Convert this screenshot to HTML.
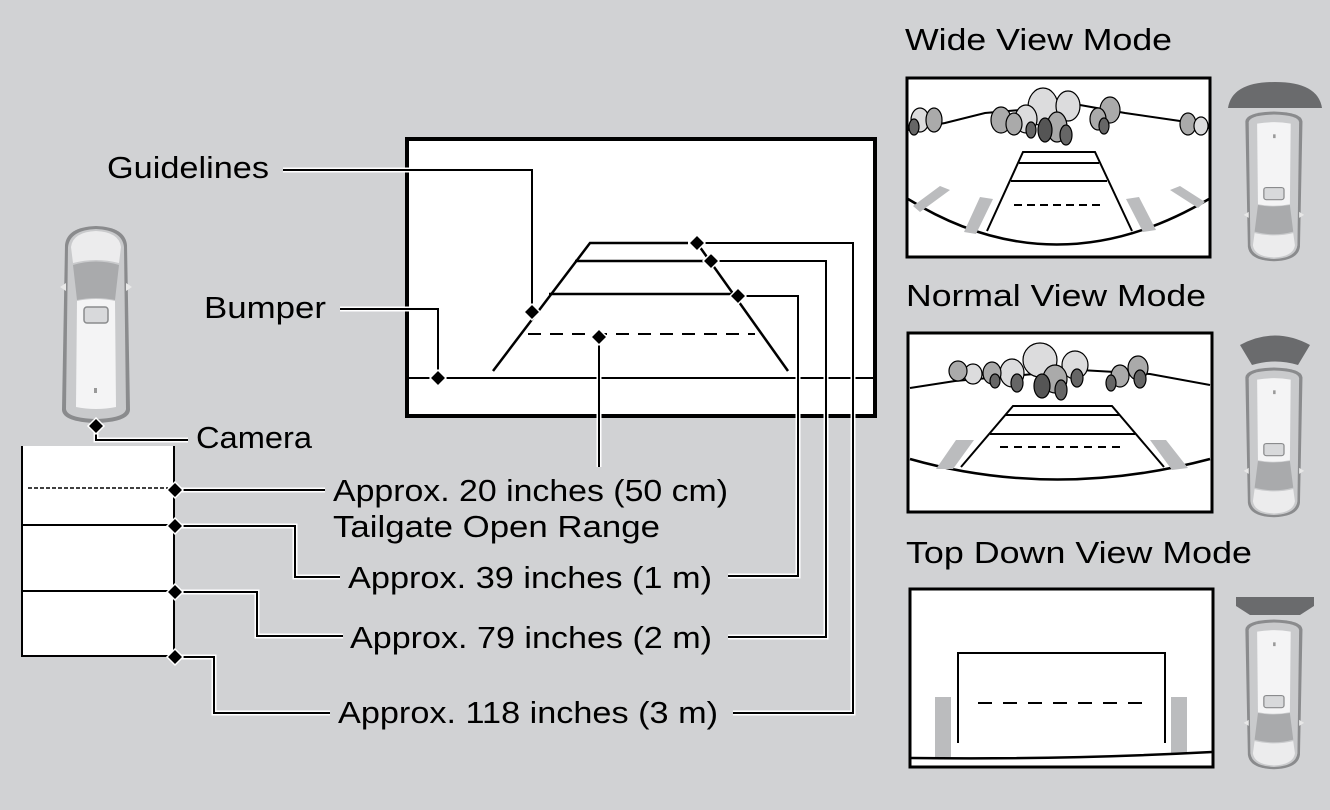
<!DOCTYPE html>
<html><head><meta charset="utf-8"><style>
html,body{margin:0;padding:0;background:#d1d2d4;}
svg{display:block;}
text{font-family:"Liberation Sans",sans-serif;fill:#000;}
</style></head><body>
<svg width="1330" height="810" viewBox="0 0 1330 810" xmlns="http://www.w3.org/2000/svg">
<defs>
<g id="car">
  <path d="M6,20 Q8,2 37,1 Q66,2 68,20 L71,185 Q70,197 37,198 Q4,197 3,185 Z" fill="#8a8b8d"/>
  <path d="M9,22 Q11,5 37,4 Q63,5 65,22 L67,184 Q66,193 37,194 Q8,193 7,184 Z" fill="#c9cacc"/>
  <path d="M12,22 Q14,7 37,6 Q60,7 62,22 L60,38 Q37,32 14,38 Z" fill="#ececed"/>
  <path d="M14,40 Q37,33 60,40 L56,75 Q37,71 18,75 Z" fill="#a9aaac"/>
  <path d="M18,76 Q37,72 56,76 L57,182 Q37,186 17,182 Z" fill="#f4f4f5"/>
  <rect x="25" y="82" width="24" height="16" rx="3" fill="#d8d9db" stroke="#8a8b8d" stroke-width="1.5"/>
  <path d="M1,62 L7,58 L7,66 Z M73,62 L67,58 L67,66 Z" fill="#e8e8e8"/>
  <rect x="35" y="163" width="3" height="5" fill="#999"/>
</g>
</defs>

<use href="#car" transform="translate(59,225)"/>

<rect x="22" y="446" width="152" height="211" fill="#fff"/>
<line x1="22" y1="446" x2="22" y2="657" stroke="#000" stroke-width="2"/>
<line x1="174" y1="446" x2="174" y2="657" stroke="#000" stroke-width="2"/>
<line x1="28" y1="488" x2="168" y2="488" stroke="#000" stroke-width="1.5" stroke-dasharray="4,2"/>
<line x1="22" y1="525" x2="174" y2="525" stroke="#000" stroke-width="2"/>
<line x1="22" y1="591" x2="174" y2="591" stroke="#000" stroke-width="2"/>
<line x1="22" y1="656" x2="174" y2="656" stroke="#000" stroke-width="2"/>

<rect x="407" y="139" width="468" height="277" fill="#fff" stroke="#000" stroke-width="4"/>
<line x1="409" y1="378" x2="873" y2="378" stroke="#000" stroke-width="2"/>
<g stroke="#000" stroke-width="2.5" fill="none">
  <polyline points="493,371 590,243 688,243"/>
  <line x1="697" y1="243" x2="788" y2="371"/>
  <line x1="575" y1="261" x2="705" y2="261"/>
  <line x1="549" y1="294" x2="732" y2="294"/>
</g>
<line x1="528" y1="334" x2="755" y2="334" stroke="#000" stroke-width="2" stroke-dasharray="13,9"/>

<g fill="none" stroke="#fff" stroke-width="5" stroke-linejoin="miter">
  <polyline points="283,170 532,170 532,312"/>
  <polyline points="340,309 438,309 438,378"/>
  <polyline points="96,426 96,440 188,440"/>
  <polyline points="697,243 853,243 853,713 733,713"/>
  <polyline points="711,261 826,261 826,637 728,637"/>
  <polyline points="738,296 798,296 798,576 728,576"/>
  <polyline points="599,337 599,467"/>
  <polyline points="175,490 325,490"/>
  <polyline points="175,526 295,526 295,577 340,577"/>
  <polyline points="175,592 257,592 257,636 343,636"/>
  <polyline points="175,657 214,657 214,713 330,713"/>
</g>
<g fill="none" stroke="#000" stroke-width="2" stroke-linejoin="miter">
  <polyline points="283,170 532,170 532,312"/>
  <polyline points="340,309 438,309 438,378"/>
  <polyline points="96,426 96,440 188,440"/>
  <polyline points="697,243 853,243 853,713 733,713"/>
  <polyline points="711,261 826,261 826,637 728,637"/>
  <polyline points="738,296 798,296 798,576 728,576"/>
  <polyline points="599,337 599,467"/>
  <polyline points="175,490 325,490"/>
  <polyline points="175,526 295,526 295,577 340,577"/>
  <polyline points="175,592 257,592 257,636 343,636"/>
  <polyline points="175,657 214,657 214,713 330,713"/>
</g>
<g fill="#000" stroke="#fff" stroke-width="1.5">
  <path d="M532,304 l8,8 l-8,8 l-8,-8z"/>
  <path d="M438,370 l8,8 l-8,8 l-8,-8z"/>
  <path d="M96,418 l8,8 l-8,8 l-8,-8z"/>
  <path d="M697,235 l8,8 l-8,8 l-8,-8z"/>
  <path d="M711,253 l8,8 l-8,8 l-8,-8z"/>
  <path d="M738,288 l8,8 l-8,8 l-8,-8z"/>
  <path d="M599,329 l8,8 l-8,8 l-8,-8z"/>
  <path d="M175,482 l8,8 l-8,8 l-8,-8z"/>
  <path d="M175,518 l8,8 l-8,8 l-8,-8z"/>
  <path d="M175,584 l8,8 l-8,8 l-8,-8z"/>
  <path d="M175,649 l8,8 l-8,8 l-8,-8z"/>
</g>

<g font-size="31">
<text x="107" y="178" textLength="162" lengthAdjust="spacingAndGlyphs">Guidelines</text>
<text x="204" y="318" textLength="122" lengthAdjust="spacingAndGlyphs">Bumper</text>
<text x="196" y="448" textLength="116" lengthAdjust="spacingAndGlyphs">Camera</text>
<text x="333" y="501" textLength="395" lengthAdjust="spacingAndGlyphs">Approx. 20 inches (50 cm)</text>
<text x="333" y="537" textLength="327" lengthAdjust="spacingAndGlyphs">Tailgate Open Range</text>
<text x="348" y="588" textLength="364" lengthAdjust="spacingAndGlyphs">Approx. 39 inches (1 m)</text>
<text x="350" y="648" textLength="362" lengthAdjust="spacingAndGlyphs">Approx. 79 inches (2 m)</text>
<text x="338" y="723" textLength="380" lengthAdjust="spacingAndGlyphs">Approx. 118 inches (3 m)</text>
<text x="905" y="50" textLength="267" lengthAdjust="spacingAndGlyphs">Wide View Mode</text>
<text x="906" y="306" textLength="300" lengthAdjust="spacingAndGlyphs">Normal View Mode</text>
<text x="906" y="563" textLength="346" lengthAdjust="spacingAndGlyphs">Top Down View Mode</text>
</g>

<!-- WIDE VIEW -->
<rect x="907" y="78" width="303" height="179" fill="#fff" stroke="#000" stroke-width="3"/>
<polyline points="908,130 945,123 985,113 1080,105 1125,113 1180,121 1209,128" fill="none" stroke="#000" stroke-width="2"/>
<path d="M908,199 Q1055,290 1209,199" fill="none" stroke="#000" stroke-width="2.5"/>
<g fill="#bbbcbe">
  <polygon points="913,206 940,186 950,190 920,212"/>
  <polygon points="964,232 980,197 993,199 976,234"/>
  <polygon points="1126,199 1139,197 1156,230 1143,232"/>
  <polygon points="1170,190 1180,186 1205,202 1198,208"/>
</g>
<g stroke="#000" stroke-width="2" fill="none">
  <polyline points="987,231 1023,152 1095,152 1132,231"/>
  <line x1="1019" y1="163" x2="1099" y2="163"/>
  <line x1="1011" y1="181" x2="1107" y2="181"/>
</g>
<line x1="1014" y1="205" x2="1105" y2="205" stroke="#000" stroke-width="2" stroke-dasharray="8,5"/>
<g stroke="#000" stroke-width="1.2">
  <ellipse cx="1043" cy="107" rx="15" ry="19" fill="#dcdcdd"/>
  <ellipse cx="1068" cy="106" rx="12" ry="15" fill="#dcdcdd"/>
  <ellipse cx="1001" cy="120" rx="10" ry="13" fill="#aaa"/>
  <ellipse cx="1026" cy="119" rx="11" ry="14" fill="#dcdcdd"/>
  <ellipse cx="1057" cy="127" rx="10" ry="15" fill="#aaa"/>
  <ellipse cx="1045" cy="130" rx="7" ry="12" fill="#555"/>
  <ellipse cx="1066" cy="135" rx="6" ry="10" fill="#666"/>
  <ellipse cx="1014" cy="124" rx="8" ry="11" fill="#aaa"/>
  <ellipse cx="1110" cy="110" rx="10" ry="13" fill="#aaa"/>
  <ellipse cx="1098" cy="119" rx="8" ry="11" fill="#aaa"/>
  <ellipse cx="1104" cy="126" rx="5" ry="8" fill="#666"/>
  <ellipse cx="1031" cy="130" rx="5" ry="8" fill="#666"/>
  <ellipse cx="920" cy="120" rx="9" ry="12" fill="#dcdcdd"/>
  <ellipse cx="934" cy="120" rx="8" ry="12" fill="#aaa"/>
  <ellipse cx="914" cy="127" rx="5" ry="8" fill="#666"/>
  <ellipse cx="1188" cy="124" rx="8" ry="11" fill="#aaa"/>
  <ellipse cx="1201" cy="126" rx="7" ry="9" fill="#dcdcdd"/>
</g>
<path d="M1228,108 Q1232,82 1275,82 Q1318,82 1322,108 Z" fill="#6a6b6d"/>
<use href="#car" transform="translate(1305,262) scale(-0.84,-0.76)"/>

<!-- NORMAL VIEW -->
<rect x="908" y="333" width="304" height="179" fill="#fff" stroke="#000" stroke-width="3"/>
<polyline points="910,388 955,381 1080,370 1150,374 1210,385" fill="none" stroke="#000" stroke-width="2"/>
<path d="M910,459 Q1055,500 1210,459" fill="none" stroke="#000" stroke-width="2.5"/>
<g fill="#bbbcbe">
  <polygon points="936,469 956,440 974,440 953,469"/>
  <polygon points="1150,440 1166,440 1188,468 1172,470"/>
</g>
<g stroke="#000" stroke-width="2" fill="none">
  <polyline points="961,467 1013,406 1112,406 1164,467"/>
  <line x1="1005" y1="415" x2="1120" y2="415"/>
  <line x1="990" y1="434" x2="1135" y2="434"/>
</g>
<line x1="1000" y1="447" x2="1122" y2="447" stroke="#000" stroke-width="2" stroke-dasharray="8,6"/>
<g stroke="#000" stroke-width="1.2">
  <ellipse cx="1040" cy="360" rx="17" ry="17" fill="#dcdcdd"/>
  <ellipse cx="1075" cy="365" rx="13" ry="14" fill="#dcdcdd"/>
  <ellipse cx="1012" cy="373" rx="12" ry="14" fill="#dcdcdd"/>
  <ellipse cx="992" cy="373" rx="9" ry="11" fill="#aaa"/>
  <ellipse cx="973" cy="374" rx="9" ry="10" fill="#dcdcdd"/>
  <ellipse cx="958" cy="371" rx="9" ry="10" fill="#aaa"/>
  <ellipse cx="1055" cy="379" rx="12" ry="14" fill="#aaa"/>
  <ellipse cx="1042" cy="386" rx="8" ry="12" fill="#555"/>
  <ellipse cx="1061" cy="390" rx="6" ry="10" fill="#666"/>
  <ellipse cx="1017" cy="383" rx="6" ry="9" fill="#666"/>
  <ellipse cx="1077" cy="378" rx="6" ry="9" fill="#666"/>
  <ellipse cx="1138" cy="368" rx="10" ry="12" fill="#aaa"/>
  <ellipse cx="1120" cy="376" rx="9" ry="11" fill="#aaa"/>
  <ellipse cx="1140" cy="379" rx="6" ry="9" fill="#666"/>
  <ellipse cx="1111" cy="383" rx="5" ry="8" fill="#666"/>
  <ellipse cx="995" cy="381" rx="5" ry="7" fill="#666"/>
</g>
<path d="M1240,345 Q1275,326 1310,345 L1298,365 Q1275,358 1252,365 Z" fill="#6a6b6d"/>
<use href="#car" transform="translate(1305,518) scale(-0.84,-0.76)"/>

<!-- TOP DOWN VIEW -->
<rect x="910" y="589" width="303" height="178" fill="#fff" stroke="#000" stroke-width="3"/>
<rect x="935" y="697" width="16" height="60" fill="#bbbcbe"/>
<rect x="1171" y="697" width="16" height="57" fill="#bbbcbe"/>
<polyline points="958,743 958,653 1165,653 1165,743" fill="none" stroke="#000" stroke-width="2"/>
<line x1="978" y1="703" x2="1145" y2="703" stroke="#000" stroke-width="2" stroke-dasharray="14,11"/>
<path d="M911,758 Q1060,760 1212,752" fill="none" stroke="#000" stroke-width="2.5"/>
<polygon points="1236,597 1314,597 1314,606 1300,615 1250,615 1236,606" fill="#6a6b6d"/>
<use href="#car" transform="translate(1305,770) scale(-0.84,-0.76)"/>
</svg>
</body></html>
